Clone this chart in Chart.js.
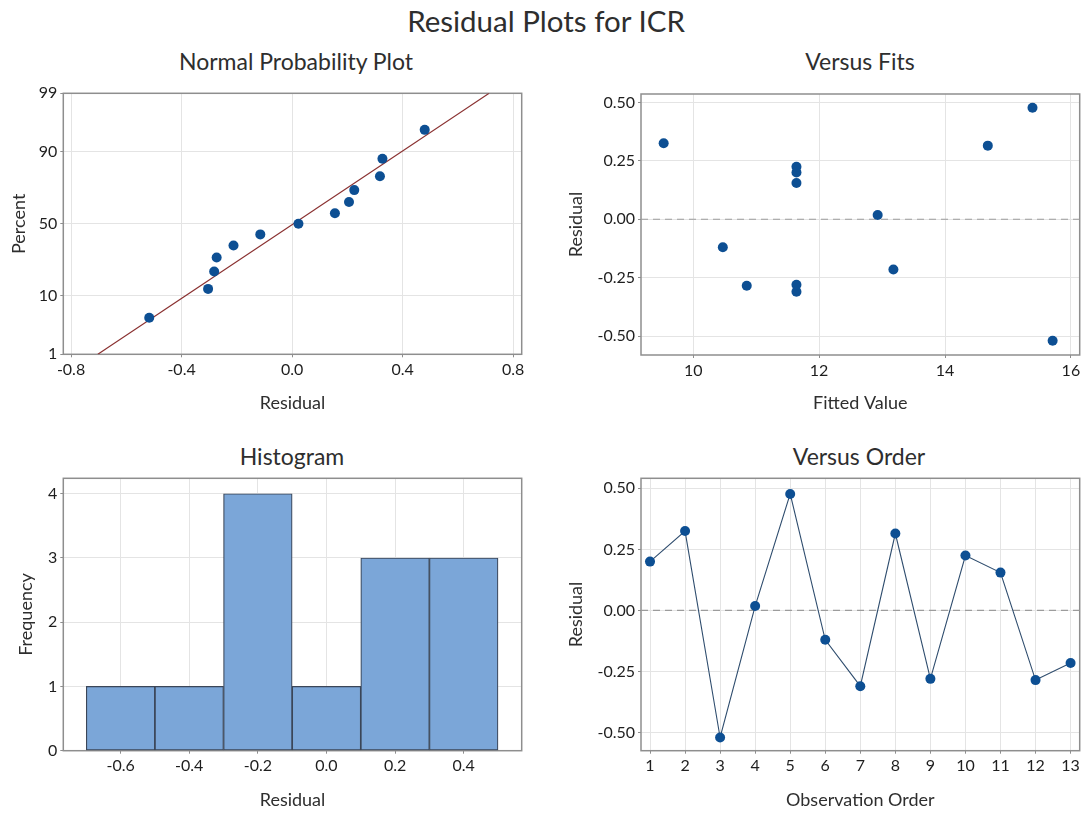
<!DOCTYPE html>
<html><head><meta charset="utf-8">
<script src="https://cdn.jsdelivr.net/npm/chart.js@4.4.1/dist/chart.umd.min.js"></script>
<style>
html,body{margin:0;padding:0;background:#fff;}
body{width:1086px;height:813px;position:relative;overflow:hidden;font-family:Lato,'Open Sans',sans-serif;}
.t{position:absolute;white-space:nowrap;color:#2e2e2e;transform:translateX(-50%);line-height:1;}
.box{position:absolute;}
canvas{display:block;}
</style></head><body>
<div class="t" style="left:546px;top:5.5px;font-size:29.5px;">Residual Plots for ICR</div>
<div class="t" style="left:296px;top:50px;font-size:23px;">Normal Probability Plot</div>
<div class="t" style="left:860px;top:50px;font-size:23px;">Versus Fits</div>
<div class="t" style="left:292px;top:444.6px;font-size:23px;">Histogram</div>
<div class="t" style="left:859px;top:444.6px;font-size:23px;">Versus Order</div>
<div class="box" style="left:0;top:80px;"><canvas id="npp" width="540" height="340"></canvas></div>
<div class="box" style="left:540px;top:80px;"><canvas id="fits" width="546" height="340"></canvas></div>
<div class="box" style="left:0;top:440px;"><canvas id="hist" width="540" height="373"></canvas></div>
<div class="box" style="left:540px;top:440px;"><canvas id="order" width="546" height="373"></canvas></div>
<script>
// ---------------- data ----------------
const OBS_ORDER = [1, 2, 3, 4, 5, 6, 7, 8, 9, 10, 11, 12, 13];
const RESIDUALS = [0.20, 0.325, -0.52, 0.018, 0.477, -0.12, -0.31, 0.315, -0.28, 0.225, 0.155, -0.285, -0.215];
const FITTED = [11.64, 9.53, 15.71, 12.93, 15.39, 10.47, 11.64, 14.68, 11.64, 11.64, 11.64, 10.85, 13.18];

const NPP_RESIDUALS = [-0.517, -0.304, -0.282, -0.273, -0.212, -0.115, 0.023, 0.155, 0.206, 0.225, 0.318, 0.327, 0.48];
const NPP_PERCENT = [4.7, 12.3, 19.8, 27.4, 34.9, 42.5, 50.0, 57.5, 65.1, 72.6, 80.2, 87.7, 95.3];
const NPP_FIT_X = [-0.703, 0.713];
const NPP_FIT_PCT = [1, 99];
const NPP_X_TICKS = [-0.8, -0.4, 0, 0.4, 0.8];
const NPP_Y_TICKS = [1, 10, 50, 90, 99];

const HIST_BIN_CENTERS = [-0.6, -0.4, -0.2, 0.0, 0.2, 0.4];
const HIST_COUNTS = [1, 1, 4, 1, 3, 3];
const HIST_X_TICKS = [-0.6, -0.4, -0.2, 0.0, 0.2, 0.4];
const HIST_Y_TICKS = [0, 1, 2, 3, 4];

const FITS_X_TICKS = [10, 12, 14, 16];
const RESID_TICKS = [-0.5, -0.25, 0, 0.25, 0.5];
const ORDER_X_TICKS = [1, 2, 3, 4, 5, 6, 7, 8, 9, 10, 11, 12, 13];

// axis ranges
const NPP_X_RANGE = [-0.828, 0.831];
const FITS_X_RANGE = [9.17, 16.14];
const FITS_Y_RANGE = [-0.581, 0.536];
const HIST_X_RANGE = [-0.767, 0.569];
const HIST_Y_RANGE = [0, 4.24];
const ORDER_X_RANGE = [0.743, 13.26];
const ORDER_Y_RANGE = [-0.574, 0.541];

// inverse standard normal CDF (probability scale transform)
function probit(p){
  const a=[-3.969683028665376e+01,2.209460984245205e+02,-2.759285104469687e+02,1.383577518672690e+02,-3.066479806614716e+01,2.506628277459239e+00];
  const b=[-5.447609879822406e+01,1.615858368580409e+02,-1.556989798598866e+02,6.680131188771972e+01,-1.328068155288572e+01];
  const c=[-7.784894002430293e-03,-3.223964580411365e-01,-2.400758277161838e+00,-2.549671348416270e+00,4.374664141464968e+00,2.938163982698783e+00];
  const d=[7.784695709041462e-03,3.224671290700398e-01,2.445134137142996e+00,3.754408661907416e+00];
  const pl=0.02425, ph=1-pl; let q,r;
  if(p<pl){q=Math.sqrt(-2*Math.log(p));return (((((c[0]*q+c[1])*q+c[2])*q+c[3])*q+c[4])*q+c[5])/((((d[0]*q+d[1])*q+d[2])*q+d[3])*q+1);}
  if(p<=ph){q=p-0.5;r=q*q;return (((((a[0]*r+a[1])*r+a[2])*r+a[3])*r+a[4])*r+a[5])*q/(((((b[0]*r+b[1])*r+b[2])*r+b[3])*r+b[4])*r+1);}
  q=Math.sqrt(-2*Math.log(1-p));return -(((((c[0]*q+c[1])*q+c[2])*q+c[3])*q+c[4])*q+c[5])/((((d[0]*q+d[1])*q+d[2])*q+d[3])*q+1);
}

// ---------------- styling ----------------
Chart.defaults.font.family = "Lato, 'Open Sans', sans-serif";
Chart.defaults.animation = false;
Chart.defaults.plugins.legend.display = false;
Chart.defaults.plugins.tooltip.enabled = false;

const POINT_COLOR = '#0d4f93';
const GRID = '#e4e4e4';
const FRAME = '#8e8e8e';

const frame = {
  id: 'frame',
  beforeDatasetsDraw(chart){
    const {ctx, chartArea:a} = chart;
    ctx.save();
    ctx.strokeStyle = FRAME; ctx.lineWidth = 1.5;
    ctx.strokeRect(a.left, a.top, a.right - a.left, a.bottom - a.top);
    ctx.restore();
  }
};

function axis(pos, range, ticks, fmt, title, size, titlePad){
  return {
    type: 'linear', position: pos, min: range[0], max: range[1], offset: false,
    afterBuildTicks: s => { s.ticks = ticks.map(v => ({value: v})); },
    afterFit: s => { if (pos === 'left') s.width = size; else s.height = size; },
    ticks: { callback: (v, i) => fmt(v, i), color: '#1e1e1e', font: {size: 16}, padding: 3,
             autoSkip: false, maxRotation: 0, minRotation: 0 },
    grid: { color: GRID, lineWidth: 1, tickLength: 3, tickColor: FRAME, drawTicks: true, offset: false },
    border: { display: false },
    title: { display: true, text: title, color: '#2e2e2e', font: {size: 18},
             padding: pos === 'left' ? {top: titlePad, bottom: 0} : {top: 0, bottom: titlePad} }
  };
}

const f1 = v => v.toFixed(1);
const f2 = v => v.toFixed(2);

// ---------------- Normal probability plot ----------------
new Chart(document.getElementById('npp'), {
  type: 'scatter',
  data: { datasets: [
    { data: NPP_RESIDUALS.map((r, i) => ({x: r, y: probit(NPP_PERCENT[i] / 100)})),
      backgroundColor: POINT_COLOR, borderColor: POINT_COLOR, pointRadius: 5, borderWidth: 0, order: 1 },
    { type: 'line', data: NPP_FIT_X.map((x, i) => ({x: x, y: probit(NPP_FIT_PCT[i] / 100)})),
      borderColor: '#8a3030', borderWidth: 1.2, pointRadius: 0, fill: false, order: 2 }
  ]},
  options: {
    responsive: false,
    layout: { padding: {top: 13.3, right: 18.3, left: 0, bottom: 0} },
    scales: {
      x: axis('bottom', NPP_X_RANGE, NPP_X_TICKS, f1, 'Residual', 65.7, 6.2),
      y: axis('left', [probit(NPP_Y_TICKS[0] / 100), probit(NPP_Y_TICKS[NPP_Y_TICKS.length - 1] / 100)],
              NPP_Y_TICKS.map(p => probit(p / 100)), (v, i) => String(NPP_Y_TICKS[i]), 'Percent', 63.3, 8.2)
    }
  },
  plugins: [frame]
});

// ---------------- Versus fits ----------------
new Chart(document.getElementById('fits'), {
  type: 'scatter',
  data: { datasets: [
    { data: FITTED.map((f, i) => ({x: f, y: RESIDUALS[i]})),
      backgroundColor: POINT_COLOR, borderColor: POINT_COLOR, pointRadius: 5, borderWidth: 0, order: 1 },
    { type: 'line', data: [{x: FITS_X_RANGE[0], y: 0}, {x: FITS_X_RANGE[1], y: 0}],
      borderColor: '#9c9c9c', borderWidth: 1.2, borderDash: [7, 5], pointRadius: 0, fill: false, order: 2 }
  ]},
  options: {
    responsive: false,
    layout: { padding: {top: 14, right: 6.3, left: 0, bottom: 0} },
    scales: {
      x: axis('bottom', FITS_X_RANGE, FITS_X_TICKS, v => String(v), 'Fitted Value', 65, 6.2),
      y: axis('left', FITS_Y_RANGE, RESID_TICKS, f2, 'Residual', 101, 25.7)
    }
  },
  plugins: [frame]
});

// ---------------- Histogram ----------------
new Chart(document.getElementById('hist'), {
  type: 'bar',
  data: { datasets: [
    { data: HIST_BIN_CENTERS.map((c, i) => ({x: c, y: HIST_COUNTS[i]})),
      backgroundColor: '#7ba6d8', borderColor: '#3b4658', borderWidth: 1.2,
      barPercentage: 1, categoryPercentage: 1, borderSkipped: false }
  ]},
  options: {
    responsive: false,
    layout: { padding: {top: 38.3, right: 18.3, left: 0, bottom: 0} },
    scales: {
      x: axis('bottom', HIST_X_RANGE, HIST_X_TICKS, f1, 'Residual', 62.3, 2.2),
      y: axis('left', HIST_Y_RANGE, HIST_Y_TICKS, v => String(v), 'Frequency', 63.3, 15.7)
    }
  },
  plugins: [frame]
});

// ---------------- Versus order ----------------
new Chart(document.getElementById('order'), {
  type: 'scatter',
  data: { datasets: [
    { data: OBS_ORDER.map((o, i) => ({x: o, y: RESIDUALS[i]})), showLine: true,
      borderColor: '#2f4d6e', borderWidth: 1.1,
      backgroundColor: POINT_COLOR, pointBorderColor: POINT_COLOR, pointRadius: 5, pointBorderWidth: 0, order: 1 },
    { type: 'line', data: [{x: ORDER_X_RANGE[0], y: 0}, {x: ORDER_X_RANGE[1], y: 0}],
      borderColor: '#9c9c9c', borderWidth: 1.2, borderDash: [7, 5], pointRadius: 0, fill: false, order: 2 }
  ]},
  options: {
    responsive: false,
    layout: { padding: {top: 38.3, right: 6.3, left: 0, bottom: 0} },
    scales: {
      x: axis('bottom', ORDER_X_RANGE, ORDER_X_TICKS, v => String(v), 'Observation Order', 62.3, 2.2),
      y: axis('left', ORDER_Y_RANGE, RESID_TICKS, f2, 'Residual', 101, 25.7)
    }
  },
  plugins: [frame]
});
</script>
</body></html>
